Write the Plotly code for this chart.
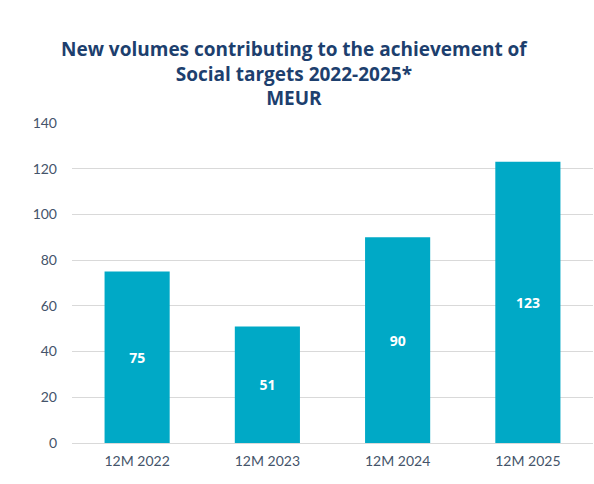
import plotly.graph_objects as go

categories = ["12M 2022", "12M 2023", "12M 2024", "12M 2025"]
values = [75, 51, 90, 123]
value_labels = ["75", "51", "90", "123"]
y_ticks = [0, 20, 40, 60, 80, 100, 120, 140]

BAR = "#00A9C6"
NAVY = "#1D3F6E"
TICK = "#44546A"

fig = go.Figure(go.Bar(
    x=categories, y=values, text=value_labels,
    textposition="inside", insidetextanchor="middle",
    textfont=dict(color="white", size=14, family="'Open Sans', sans-serif", weight="bold"),
    marker=dict(color=BAR, line=dict(width=0)),
    width=0.5,
))

fig.update_layout(
    width=594, height=484,
    margin=dict(l=72, r=1, t=123, b=41),
    paper_bgcolor="white", plot_bgcolor="white",
    showlegend=False,
    font=dict(family="Lato, 'Open Sans', sans-serif", color=TICK, size=14),
    annotations=[dict(
        text="New volumes contributing to the achievement of<br>Social targets 2022-2025*<br>MEUR",
        xref="paper", yref="paper", x=(294 - 72) / 521, y=1, yshift=10,
        xanchor="center", yanchor="bottom", showarrow=False,
        font=dict(family="'Open Sans', sans-serif", size=19, color=NAVY, weight="bold"),
        align="center",
    )],
)
fig.update_xaxes(showgrid=False, showline=False, ticks="", ticklabelstandoff=8,
                 tickfont=dict(size=14, color=TICK))
fig.update_yaxes(range=[0, 140], tickvals=y_ticks, showgrid=True, gridcolor="#D9D9D9",
                 gridwidth=1, zeroline=True, zerolinecolor="#D9D9D9", zerolinewidth=1,
                 ticks="", ticklabelstandoff=14, tickfont=dict(size=14, color=TICK))

fig.write_html("out.html")
